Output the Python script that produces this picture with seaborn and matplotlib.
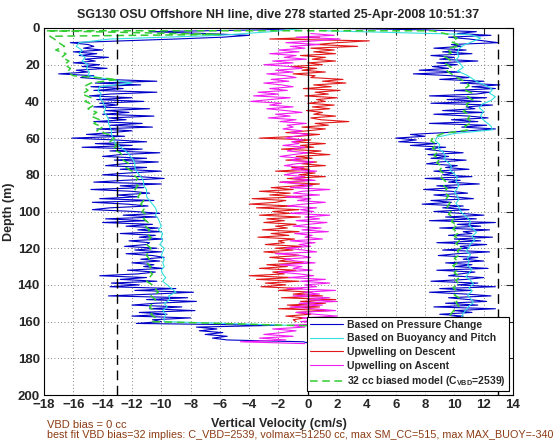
import numpy as np
import matplotlib
matplotlib.use("Agg")
import matplotlib.pyplot as plt
import seaborn as sns

# vertical velocity (cm/s), one value per depth step
# "Based on Pressure Change" - descent, depths 0..171 m
blue_desc = [
    0.0, -3.0, -10.8, -7.0, -4.0, -5.8, -9.0, -12.5, -16.2, -15.0,
    -14.6, -15.3, -14.0, -16.0, -14.4, -15.6, -13.6, -15.2, -14.5, -16.0,
    -14.2, -15.4, -13.7, -15.8, -15.0, -17.0, -14.6, -15.5, -13.8, -10.3,
    -14.5, -11.4, -14.8, -12.6, -14.6, -10.3, -13.5, -14.9, -12.0, -14.4,
    -11.2, -14.2, -13.0, -14.6, -10.8, -13.8, -12.2, -14.0, -10.5, -13.6,
    -12.4, -14.6, -11.3, -13.5, -10.6, -14.4, -12.0, -13.4, -15.1, -12.5,
    -16.1, -13.2, -11.0, -14.5, -12.0, -15.4, -11.3, -13.5, -10.1, -12.8,
    -14.0, -11.0, -13.2, -10.2, -12.6, -13.8, -11.0, -12.8, -10.0, -12.2,
    -14.0, -11.5, -9.8, -12.5, -14.6, -10.0, -12.8, -11.2, -14.8, -12.0,
    -10.8, -13.0, -11.6, -14.2, -10.5, -14.7, -12.3, -10.9, -13.5, -14.7,
    -11.8, -10.1, -12.6, -10.3, -13.8, -11.0, -14.0, -10.6, -12.4, -10.2,
    -11.6, -10.0, -12.8, -10.4, -11.5, -9.9, -12.2, -10.8, -11.0, -12.5,
    -10.3, -11.8, -10.0, -12.4, -10.6, -9.8, -11.4, -10.1, -12.0, -10.5,
    -11.2, -9.9, -12.3, -10.4, -11.6, -14.2, -11.0, -12.8, -10.3, -13.4,
    -11.5, -13.5, -9.0, -11.8, -7.8, -10.6, -13.6, -8.2, -11.0, -7.6,
    -10.4, -12.0, -8.6, -10.8, -7.7, -11.5, -9.6, -12.0, -8.0, -10.6,
    -10.0, -11.7, -2.0, -7.6, -6.2, -7.4, -5.8, -7.0, -5.5, -6.5, -5.5, -0.3,
]
# "Based on Pressure Change" - ascent, depths 0..172 m
blue_asc = [
    0.5, 8.0, 11.5, 10.2, 12.5, 9.6, 11.0, 12.0, 13.0, 9.8,
    10.5, 8.6, 10.8, 9.2, 11.2, 8.4, 10.0, 9.0, 11.6, 8.8,
    10.2, 8.5, 9.6, 7.6, 10.4, 7.2, 9.8, 11.0, 9.0, 12.0,
    10.4, 13.1, 11.2, 12.8, 10.0, 12.4, 11.5, 8.3, 12.2, 9.5,
    11.8, 8.4, 12.6, 10.8, 11.4, 9.2, 12.0, 8.6, 11.0, 12.3,
    9.8, 11.6, 8.3, 12.2, 10.5, 12.8, 11.0, 9.4, 7.0, 8.0,
    6.0, 7.4, 6.2, 8.8, 7.0, 9.4, 8.0, 9.0, 10.6, 8.2,
    9.6, 8.4, 10.8, 9.0, 8.1, 10.2, 9.4, 11.0, 8.6, 10.0,
    9.2, 11.2, 8.0, 10.4, 9.6, 11.7, 8.8, 10.2, 7.9, 9.8,
    10.9, 8.6, 10.0, 11.3, 8.4, 9.8, 7.8, 10.6, 9.2, 11.0,
    8.6, 10.4, 12.0, 9.4, 11.5, 8.3, 12.8, 10.2, 11.8, 9.0,
    12.4, 10.6, 11.2, 9.6, 12.6, 10.0, 11.8, 8.8, 12.2, 10.4,
    11.0, 9.2, 12.4, 10.2, 8.9, 11.6, 10.6, 12.0, 9.4, 11.2,
    10.0, 12.3, 8.8, 11.4, 10.4, 9.6, 12.0, 10.8, 8.4, 11.6,
    10.2, 12.8, 9.0, 11.2, 8.3, 10.8, 12.5, 9.6, 11.0, 12.2,
    9.4, 11.6, 8.6, 12.8, 10.0, 11.2, 9.0, 10.6, 9.4, 10.2,
    9.0, 10.4, 8.8, 9.8, 10.2, 8.6, 9.4, 8.0, 9.0, 7.5, 6.0, 3.0, 0.2,
]
# "Based on Buoyancy and Pitch" - descent, depths 0..162 m every 2 m
cyan_desc = [
    0.0, -2.5, -6.0, -13.5, -15.6, -15.8, -15.4, -15.6, -15.2, -15.4,
    -15.0, -15.1, -14.9, -15.0, -13.5, -12.0, -14.2, -14.3, -14.1, -14.2,
    -14.0, -13.9, -13.8, -13.9, -13.7, -13.6, -13.6, -13.5, -13.4, -13.4,
    -13.3, -13.2, -12.9, -12.6, -12.3, -12.1, -11.9, -11.8, -11.8, -11.7,
    -11.5, -11.3, -11.2, -11.2, -11.0, -11.0, -11.0, -10.8, -10.6, -10.4,
    -10.3, -10.4, -10.2, -10.1, -10.0, -10.2, -9.9, -10.0, -9.9, -10.1,
    -9.8, -9.9, -10.0, -9.8, -9.9, -9.8, -10.0, -9.9, -9.7, -9.9,
    -9.6, -9.3, -9.0, -9.5, -9.4, -9.8, -9.6, -9.9, -9.7, -9.8,
    -9.8, -1.5,
]
# "Based on Buoyancy and Pitch" - ascent, depths 1.5..163.5 m every 2 m
cyan_asc = [
    1.0, 11.0, 11.8, 11.2, 10.6, 10.3, 10.2, 10.3, 10.1, 10.4,
    10.6, 10.2, 10.8, 11.2, 11.6, 12.2, 12.6, 12.4, 12.8, 12.5,
    11.9, 11.7, 12.0, 11.8, 11.9, 12.2, 12.5, 12.6, 10.0, 8.8,
    8.7, 9.0, 8.9, 9.2, 9.4, 9.3, 9.6, 9.8, 9.7, 10.0,
    10.2, 10.1, 10.3, 10.2, 10.0, 10.2, 10.3, 10.1, 10.3, 10.4,
    10.6, 10.9, 11.1, 11.0, 11.3, 11.5, 11.2, 11.4, 11.1, 11.0,
    10.8, 11.1, 10.9, 11.0, 10.9, 11.2, 11.0, 10.8, 11.1, 11.3,
    11.0, 11.2, 10.9, 11.1, 11.3, 11.0, 10.8, 10.6, 10.5, 10.3,
    10.0, 9.8,
]
# "Upwelling on Descent", depths 5..160 m
red_desc = [
    0.8, -2.6, 4.2, 2.0, 0.6,
    3.4, 0.2, 1.8, 0.4, 1.9, -0.5, 1.2, 0.3, 1.9, 0.0,
    1.0, -1.2, 0.6, -0.4, 1.2, -1.0, 0.5, 0.2, 2.4, 1.0,
    2.6, 0.4, 1.6, -0.3, 2.2, 0.5, 1.4, -0.2, 2.0, 0.6,
    1.2, 0.0, 1.8, 0.3, 1.5, -0.1, 1.0, 0.4, 1.9, 0.2,
    0.9, 2.8, 0.5, 1.4, -0.4, 1.2, 0.0, -1.5, 0.8, -0.6,
    -3.3, 0.2, -1.0, 1.2, -0.5, 0.4, -1.8, 0.9, -0.2, 1.5,
    -0.8, 0.3, -1.5, 0.6, -0.4, 1.2, -1.1, 0.1, -2.2, 0.5,
    -0.6, 1.2, -1.4, 0.3, -1.9, 0.8, -0.7, -2.5, -1.0, -3.3,
    -1.2, -2.6, -0.4, -3.8, -1.5, -2.2, -4.0, -1.0, -3.5, -0.6,
    -2.4, -1.2, -3.3, -0.5, -2.8, -1.6, -3.0, -0.8, -2.2, -1.4,
    -3.1, -0.6, -2.5, -1.3, -3.4, -0.9, -2.0, -1.6, -2.9, -0.4,
    -2.2, -1.0, -3.0, -1.5, -0.5, -2.6, -1.2, -2.0, -0.3, -2.8,
    -1.4, -3.3, -0.8, -2.4, -1.6, -4.0, -1.1, -3.5, -0.6, -2.9,
    -1.5, -3.2, -0.4, -2.0, 0.3, -1.0, 1.0, -1.8, 1.9, -0.5,
    1.2, -1.4, 0.8, -2.0, 1.5, -0.8, 0.2, -1.5, -0.2, -1.0,
    -0.8,
]
# "Upwelling on Ascent", depths 3..172 m
mag_asc = [
    0.2, 1.8, -0.8, 2.2, 0.5, -1.5, 0.8,
    -1.2, -0.2, -2.0, -0.6, -2.6, -0.8, -1.6, -0.1, -2.4, -1.0,
    -3.0, -1.2, -0.4, -2.2, -1.0, -2.8, -1.5, -0.8, -2.5, -1.3,
    -3.0, -1.8, -1.0, -2.6, -1.4, -3.4, -2.0, -3.7, -1.2, -2.6,
    -3.9, -1.8, -2.6, -1.0, -2.8, -1.5, -0.4, -2.2, -1.2, -2.7,
    -0.8, -1.9, -0.1, -1.4, -1.0, -1.7, -0.4, -1.2, 0.1, -0.9,
    -1.5, -0.3, -1.1, -0.6, -1.7, -0.2, -0.9, -1.4, 0.0, -1.0,
    -1.9, -0.5, -1.2, 0.4, -0.8, -1.6, -0.3, -1.1, 0.6, -0.9,
    -1.6, -0.2, -1.0, 0.5, -1.9, -0.6, 0.3, -1.2, 1.5, -0.4,
    -1.0, 0.8, -1.5, 0.2, -0.7, 1.2, -0.3, -1.4, 0.6, -0.5,
    0.4, -1.2, 1.5, -0.2, 0.8, -0.8, 1.3, 0.0, -1.0, 0.9,
    -0.4, 1.4, -0.9, 0.3, -0.2, 1.0, -1.2, 0.5, -0.6, 0.2,
    -1.5, -0.3, 0.6, -2.2, -0.5, 0.2, -1.6, -0.8, 0.5, -1.9,
    -0.4, -1.0, 0.3, -2.0, -0.6, 0.4, -1.3, 1.2, -0.5, 1.5,
    -0.2, 0.6, -1.4, 1.9, -0.3, 0.8, -1.0, 1.5, 0.0, 2.0,
    -0.6, 1.0, -1.2, 0.4, 1.9, -0.8, 0.5, 2.0, -0.4, 0.9,
    -0.5, 1.4, -1.2, -0.2, -2.4, -0.8, -1.8, -3.0, -1.0, -3.3,
    -1.5, -4.6, -0.2,
]
# "32 cc biased model" - surface start, descent (6..162 m every 2 m), ascent (1.5..163.5 m)
green_top_depth = [1.5, 3.5, 4.5]
green_top = [-17.8, -6.0, -17.6]
green_desc = [
    -17.3, -17.0, -16.6, -17.2, -16.5, -16.8, -16.3, -16.6, -16.2, -16.4,
    -16.0, -13.0, -14.8, -15.3, -15.0, -15.4, -14.8, -15.2, -14.6, -15.0,
    -14.4, -14.8, -14.2, -14.6, -14.0, -14.4, -13.6, -13.2, -13.5, -13.0,
    -13.3, -12.8, -12.6, -12.6, -12.2, -12.4, -12.0, -11.9, -11.6, -11.8,
    -11.6, -11.8, -11.4, -11.6, -11.2, -11.4, -11.1, -11.3, -11.0, -11.2,
    -10.9, -11.1, -10.8, -11.0, -10.7, -10.9, -11.0, -10.7, -10.9, -11.0,
    -10.8, -11.0, -10.7, -10.9, -10.6, -10.8, -11.0, -10.6, -10.4, -10.2,
    -10.7, -10.4, -10.6, -10.8, -10.5, -10.7, -10.4, -10.6, -1.5,
]
green_asc = [
    8.5, 9.6, 10.2, 9.8, 10.4, 9.5, 9.8, 9.3, 9.7, 9.4,
    9.8, 9.5, 9.9, 10.3, 10.8, 11.0, 10.6, 11.2, 10.9, 11.3,
    10.8, 11.0, 10.6, 11.1, 10.9, 11.2, 10.7, 11.0, 9.2, 8.6,
    8.4, 8.8, 8.5, 8.9, 8.6, 9.0, 8.8, 9.2, 9.0, 9.3,
    9.1, 9.4, 9.2, 9.5, 9.3, 9.6, 9.4, 9.7, 9.5, 9.8,
    9.6, 10.0, 9.8, 10.2, 9.9, 10.3, 10.0, 10.4, 10.1, 10.5,
    10.2, 10.4, 10.0, 10.3, 9.9, 10.2, 10.0, 10.4, 10.1, 10.3,
    9.9, 10.2, 10.0, 10.4, 10.1, 10.3, 10.0, 9.8, 9.6, 9.5,
    9.4, 9.3,
]

d_blue_desc = np.arange(0, 172)
d_blue_asc = np.arange(0, 173)
d_cyan_desc = np.arange(0, 164, 2)
d_asc2 = np.arange(1.5, 165, 2)
d_green_desc = np.arange(6, 164, 2)
d_red = np.arange(5, 161)
d_mag = np.arange(3, 173)

labels = ["Based on Pressure Change", "Based on Buoyancy and Pitch",
          "Upwelling on Descent", "Upwelling on Ascent",
          r"32 cc biased model (C$_{\mathbf{VBD}}$=2539)"]

sns.set_style("white")
plt.rcParams["font.family"] = ["Liberation Sans", "DejaVu Sans"]
plt.rcParams["font.weight"] = "bold"
plt.rcParams["mathtext.fontset"] = "custom"
plt.rcParams["mathtext.rm"] = "Liberation Sans:bold"
plt.rcParams["mathtext.bf"] = "Liberation Sans:bold"

fig, ax = plt.subplots(figsize=(5.6, 4.42), dpi=100)
fig.subplots_adjust(left=44 / 560, right=513 / 560, bottom=1 - 395 / 442, top=1 - 28 / 442)

# each trace: descent then ascent, drawn in dive order
blue_v = np.r_[blue_desc, blue_asc[::-1]]
blue_d = np.r_[d_blue_desc, d_blue_asc[::-1]]
cyan_v = np.r_[cyan_desc, cyan_asc[::-1]]
cyan_d = np.r_[d_cyan_desc, d_asc2[::-1]]
green_v = np.r_[green_top, green_desc, green_asc[::-1], green_top[:1]]
green_d = np.r_[green_top_depth, d_green_desc, d_asc2[::-1], green_top_depth[:1]]

traces = [
    (blue_v, blue_d, "#0000c8"),
    (cyan_v, cyan_d, "#33e0e0"),
    (np.array(red_desc), d_red, "#e01818"),
    (np.array(mag_asc), d_mag, "#f01ef0"),
    (green_v, green_d, "#33cc33"),
]
handles = []
for (v, d, col), lab in zip(traces, labels):
    sns.lineplot(x=v, y=d, sort=False, estimator=None, color=col, lw=0.8,
                 label=lab, legend=False, ax=ax)
    handles.append(ax.lines[-1])
handles[-1].set_dashes([5, 3])
handles[-1].set_linewidth(1.1)

ax.axvline(0, color="k", lw=0.9, zorder=4)
ax.axvline(-13, color="k", lw=1.0, dashes=(7, 4), zorder=4)
ax.axvline(13, color="k", lw=1.0, dashes=(7, 4), zorder=4)

ax.set_xlim(-18, 14)
ax.set_ylim(200, 0)
ax.set_xticks(np.arange(-18, 15, 2))
ax.set_yticks(np.arange(0, 201, 20))
ax.grid(True, color="0.35", linestyle=(0, (1, 3)), lw=0.6)
ax.tick_params(direction="in", length=5, width=0.8, top=True, right=True,
               labelsize=9.5, pad=3)
for s in ax.spines.values():
    s.set_color("k")
    s.set_linewidth(0.8)

ax.set_title("SG130 OSU Offshore NH line, dive 278 started 25-Apr-2008 10:51:37",
             fontsize=9, fontweight="bold", pad=7)
ax.set_xlabel("Vertical Velocity (cm/s)", fontsize=9, fontweight="bold", labelpad=5)
ax.set_ylabel("Depth (m)", fontsize=9, fontweight="bold", labelpad=2)

leg = ax.legend(handles=handles, labels=labels, loc="lower right", fontsize=7.5,
                frameon=True, fancybox=False, framealpha=1, edgecolor="k",
                handlelength=3.2, labelspacing=0.35, borderpad=0.3,
                handletextpad=0.4, borderaxespad=0.35)
leg.get_frame().set_linewidth(0.8)

brown = "#8c3c14"
fig.text(47 / 560, 1 - 425 / 442, "VBD bias = 0 cc", color=brown, fontsize=8,
         fontweight="normal", ha="left", va="center")
fig.text(47 / 560, 1 - 435.5 / 442,
         "best fit VBD bias=32 implies: C_VBD=2539, volmax=51250 cc, max SM_CC=515, max MAX_BUOY=-340",
         color=brown, fontsize=7.75, fontweight="normal", ha="left", va="center")

fig.savefig("out.png", dpi=100)
